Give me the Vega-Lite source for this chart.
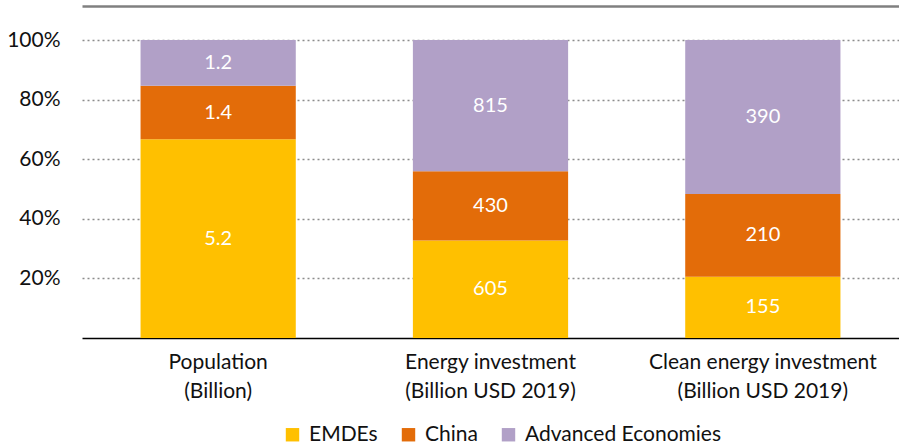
{
  "$schema": "https://vega.github.io/schema/vega-lite/v6.json",
  "autosize": {"type": "none"},
  "width": 817,
  "height": 298,
  "padding": {"left": 82, "top": 40, "right": 0, "bottom": 109},
  "background": "white",
  "config": {
    "view": {"stroke": null},
    "font": "Lato",
    "axis": {"labelFont": "Lato", "labelColor": "#111111"},
    "legend": {"labelFont": "Lato"}
  },
  "data": {
    "values": [
      {"cat": "Population|(Billion)", "series": "EMDEs", "v": 5.2, "label": "5.2"},
      {"cat": "Population|(Billion)", "series": "China", "v": 1.4, "label": "1.4"},
      {"cat": "Population|(Billion)", "series": "Advanced Economies", "v": 1.2, "label": "1.2"},
      {"cat": "Energy investment|(Billion USD 2019)", "series": "EMDEs", "v": 605, "label": "605"},
      {"cat": "Energy investment|(Billion USD 2019)", "series": "China", "v": 430, "label": "430"},
      {"cat": "Energy investment|(Billion USD 2019)", "series": "Advanced Economies", "v": 815, "label": "815"},
      {"cat": "Clean energy investment|(Billion USD 2019)", "series": "EMDEs", "v": 155, "label": "155"},
      {"cat": "Clean energy investment|(Billion USD 2019)", "series": "China", "v": 210, "label": "210"},
      {"cat": "Clean energy investment|(Billion USD 2019)", "series": "Advanced Economies", "v": 390, "label": "390"}
    ]
  },
  "transform": [
    {"calculate": "indexof(['EMDEs','China','Advanced Economies'], datum.series)", "as": "k"},
    {"stack": "v", "groupby": ["cat"], "sort": [{"field": "k", "order": "ascending"}], "offset": "normalize", "as": ["y0", "y1"]},
    {"calculate": "(datum.y0 + datum.y1) / 2", "as": "mid"}
  ],
  "layer": [
    {
      "mark": {"type": "bar"},
      "encoding": {
        "x": {
          "field": "cat", "type": "nominal", "sort": null, "title": null,
          "scale": {"paddingInner": 0.43, "paddingOuter": 0.215},
          "axis": {
            "labelExpr": "split(datum.label, '|')",
            "labelAngle": 0, "labelFontSize": 21, "labelLineHeight": 29, "labelLimit": 0,
            "labelPadding": 13, "ticks": false, "domainColor": "#000000", "domainWidth": 1.5,
            "labelBaseline": "top"
          }
        },
        "y": {
          "field": "y0", "type": "quantitative", "title": null,
          "scale": {"domain": [0, 1]},
          "axis": {
            "values": [0.2, 0.4, 0.6, 0.8, 1], "format": ".0%",
            "labelFontSize": 21, "labelPadding": 22, "ticks": false, "domain": false,
            "grid": true, "gridDash": [2, 3], "gridColor": "#8c8c8c", "gridWidth": 1.5
          }
        },
        "y2": {"field": "y1"},
        "color": {
          "field": "series", "type": "nominal", "title": null,
          "scale": {"domain": ["EMDEs", "China", "Advanced Economies"], "range": ["#FFC000", "#E36C09", "#B1A0C7"]},
          "legend": {
            "orient": "none", "legendX": 200, "legendY": 384, "direction": "horizontal", "symbolType": "square",
            "symbolSize": 180, "symbolStrokeWidth": 0, "symbolOpacity": 1, "labelFontSize": 21, "labelColor": "#111111",
            "labelLimit": 0, "columnPadding": 20, "labelOffset": 6
          }
        }
      }
    },
    {
      "mark": {"type": "text", "color": "white", "fontSize": 20, "font": "Lato"},
      "encoding": {
        "x": {
          "field": "cat", "type": "nominal", "sort": null, "title": null,
          "axis": {"orient": "top", "labels": false, "ticks": false, "domain": true, "domainColor": "#808080", "domainWidth": 2.5, "offset": 34}
        },
        "y": {"field": "mid", "type": "quantitative"},
        "text": {"field": "label"}
      }
    }
  ],
  "resolve": {"axis": {"x": "independent"}}
}
